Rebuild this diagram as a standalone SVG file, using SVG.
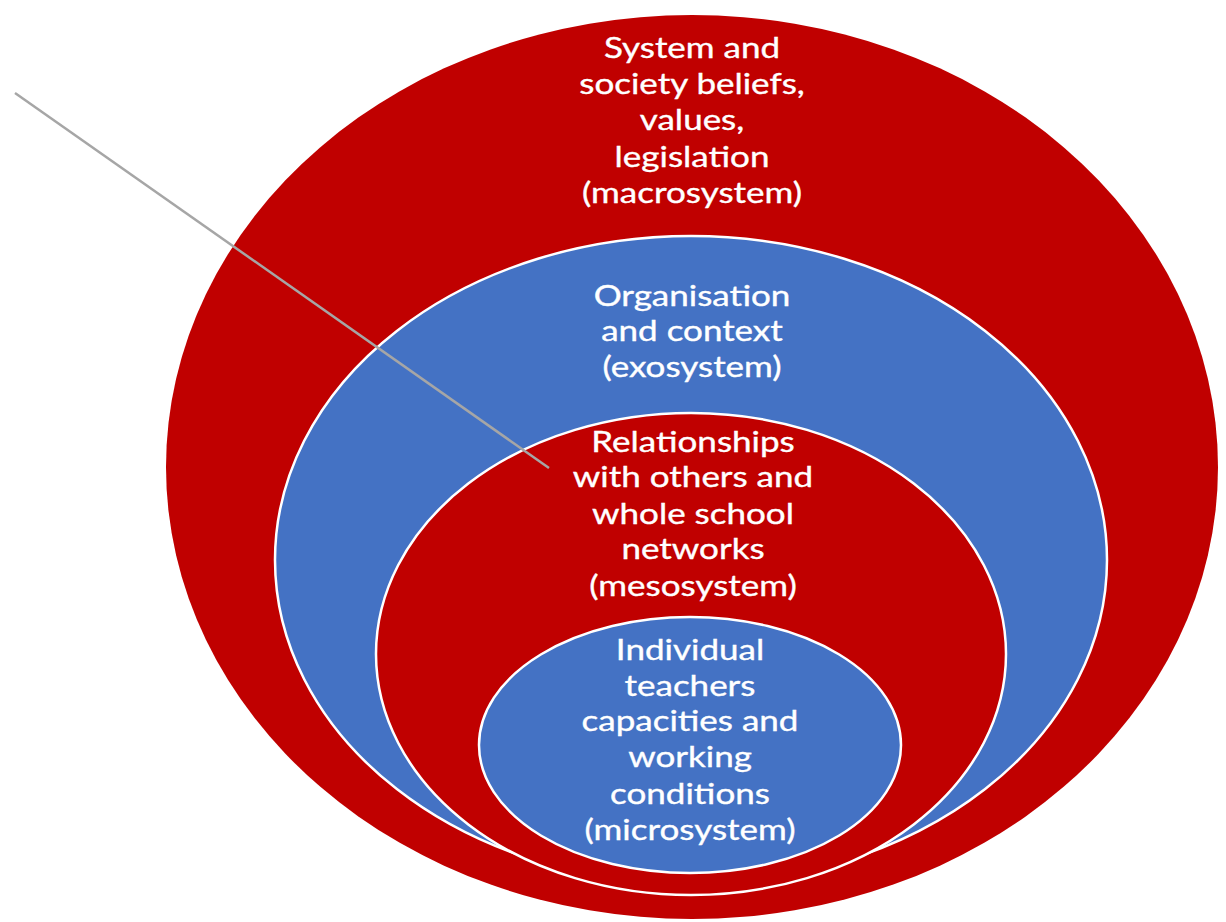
<svg xmlns="http://www.w3.org/2000/svg" width="1226" height="922" viewBox="0 0 1226 922">
<style>
.red{fill:#C00000}
.blue{fill:#4472C4}
.ring{stroke:#FFFFFF;stroke-width:2.5}
.lbl{font-family:Lato,"Open Sans","Liberation Sans",sans-serif;font-size:28px;fill:#FFFFFF;stroke:#FFFFFF;stroke-width:0.35;text-anchor:middle}
.conn{stroke:#A6A6A6;stroke-width:2.5;fill:none}
</style>
<rect width="1226" height="922" fill="#FFFFFF"/>
<g id="macrosystem">
<ellipse class="red" cx="692" cy="467" rx="526" ry="452"/>
<text class="lbl" transform="translate(692,0) scale(1.25,1)"><tspan x="0" y="58">System and</tspan><tspan x="0" y="94">society beliefs,</tspan><tspan x="0" y="130">values,</tspan><tspan x="0" y="167">legislation</tspan><tspan x="0" y="203">(macrosystem)</tspan></text>
</g>
<g id="exosystem">
<ellipse class="blue ring" cx="691" cy="560" rx="416" ry="324"/>
<text class="lbl" transform="translate(692,0) scale(1.25,1)"><tspan x="0" y="306">Organisation</tspan><tspan x="0" y="341">and context</tspan><tspan x="0" y="377">(exosystem)</tspan></text>
</g>
<g id="mesosystem">
<ellipse class="red ring" cx="691" cy="654" rx="315" ry="241"/>
<text class="lbl" transform="translate(693,0) scale(1.25,1)"><tspan x="0" y="452">Relationships</tspan><tspan x="0" y="487">with others and</tspan><tspan x="0" y="524">whole school</tspan><tspan x="0" y="559">networks</tspan><tspan x="0" y="596">(mesosystem)</tspan></text>
</g>
<g id="microsystem">
<ellipse class="blue ring" cx="690" cy="745" rx="211" ry="128"/>
<text class="lbl" transform="translate(690,0) scale(1.25,1)"><tspan x="0" y="660">Individual</tspan><tspan x="0" y="696">teachers</tspan><tspan x="0" y="731">capacities and</tspan><tspan x="0" y="767">working</tspan><tspan x="0" y="804">conditions</tspan><tspan x="0" y="840">(microsystem)</tspan></text>
</g>
<g id="connectors">
<line class="conn" x1="15" y1="93" x2="549" y2="468"/>
</g>
</svg>
